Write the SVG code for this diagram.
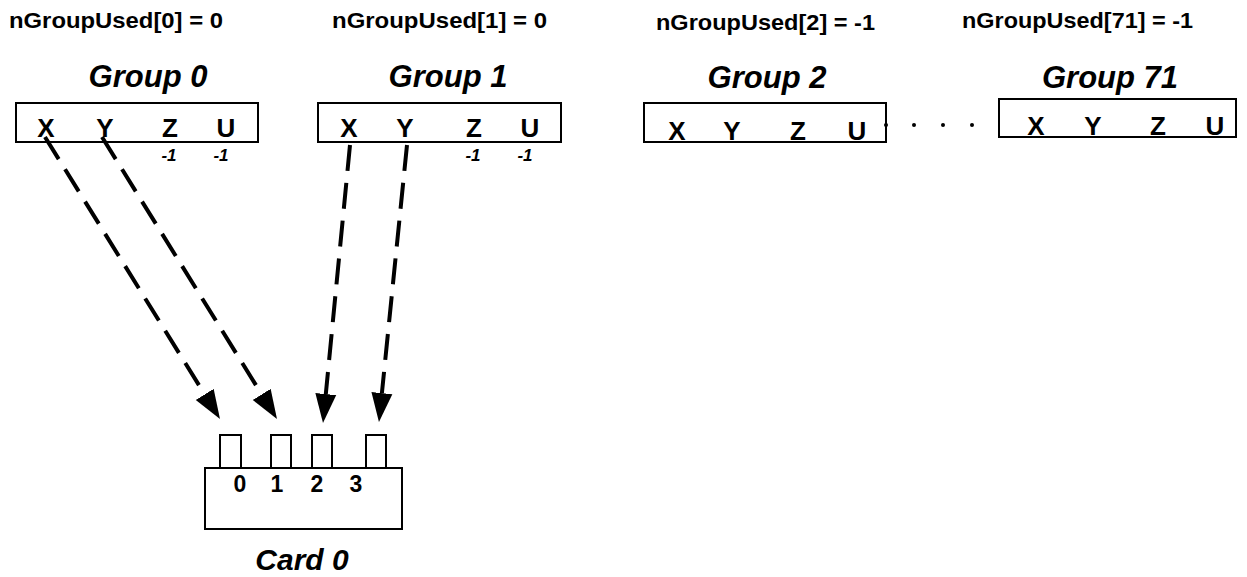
<svg xmlns="http://www.w3.org/2000/svg" width="1247" height="577" viewBox="0 0 1247 577">
  <style>
    .used { font-family: "Liberation Sans", Arial, sans-serif; font-weight: bold; font-size: 22px; fill: #000; }
    .title { font-family: "Liberation Sans", Arial, sans-serif; font-weight: bold; font-style: italic; font-size: 31px; fill: #000; text-anchor: middle; }
    .axis { font-family: "Liberation Sans", Arial, sans-serif; font-weight: bold; font-size: 26px; fill: #000; text-anchor: middle; }
    .unused { font-family: "Liberation Sans", Arial, sans-serif; font-weight: bold; font-style: italic; font-size: 17px; fill: #000; text-anchor: middle; }
    .chan { font-family: "Liberation Sans", Arial, sans-serif; font-weight: bold; font-size: 23px; fill: #000; text-anchor: middle; }
    .box { fill: #fff; stroke: #000; stroke-width: 2; }
    .link { fill: none; stroke: #000; stroke-width: 4; stroke-dasharray: 26 12; marker-end: url(#head); }
  </style>
  <defs>
    <marker id="head" markerUnits="userSpaceOnUse" markerWidth="32" markerHeight="24" viewBox="0 -12 32 24" refX="0" refY="0" orient="auto">
      <path d="M0,-10.5 L29,0 L0,10.5 z" fill="#000"/>
    </marker>
  </defs>

  <rect width="1247" height="577" fill="#fff"/>

  <!-- usage counters -->
  <g id="counters">
    <text class="used" x="9" y="28" textLength="214" lengthAdjust="spacingAndGlyphs">nGroupUsed[0] = 0</text>
    <text class="used" x="332" y="28" textLength="215" lengthAdjust="spacingAndGlyphs">nGroupUsed[1] = 0</text>
    <text class="used" x="656" y="30" textLength="219" lengthAdjust="spacingAndGlyphs">nGroupUsed[2] = -1</text>
    <text class="used" x="962" y="28" textLength="231" lengthAdjust="spacingAndGlyphs">nGroupUsed[71] = -1</text>
  </g>

  <!-- Group 0 -->
  <g id="group0">
    <text class="title" x="148" y="87">Group 0</text>
    <rect class="box" x="16" y="103" width="242" height="39"/>
    <text class="axis" x="46" y="137">X</text>
    <text class="axis" x="105" y="137">Y</text>
    <text class="axis" x="170" y="137">Z</text>
    <text class="axis" x="226" y="137">U</text>
    <text class="unused" x="169" y="161">-1</text>
    <text class="unused" x="221" y="161">-1</text>
  </g>

  <!-- Group 1 -->
  <g id="group1">
    <text class="title" x="448" y="87">Group 1</text>
    <rect class="box" x="318" y="103" width="243" height="39"/>
    <text class="axis" x="349" y="137">X</text>
    <text class="axis" x="405" y="137">Y</text>
    <text class="axis" x="474" y="137">Z</text>
    <text class="axis" x="530" y="137">U</text>
    <text class="unused" x="473" y="161">-1</text>
    <text class="unused" x="525" y="161">-1</text>
  </g>

  <!-- Group 2 -->
  <g id="group2">
    <text class="title" x="767" y="88">Group 2</text>
    <rect class="box" x="644" y="103" width="242" height="39"/>
    <text class="axis" x="677" y="140">X</text>
    <text class="axis" x="732" y="140">Y</text>
    <text class="axis" x="798" y="140">Z</text>
    <text class="axis" x="857" y="140">U</text>
  </g>

  <!-- ellipsis between groups -->
  <g id="ellipsis" fill="#000">
    <circle cx="886" cy="125" r="2"/>
    <circle cx="914" cy="125" r="2"/>
    <circle cx="943" cy="125" r="2"/>
    <circle cx="972" cy="125" r="2"/>
  </g>

  <!-- Group 71 -->
  <g id="group71">
    <text class="title" x="1110" y="88">Group 71</text>
    <rect class="box" x="999" y="99" width="237" height="38"/>
    <text class="axis" x="1036" y="135">X</text>
    <text class="axis" x="1093" y="135">Y</text>
    <text class="axis" x="1158" y="135">Z</text>
    <text class="axis" x="1215" y="135">U</text>
  </g>

  <!-- Card 0 with four axis slots -->
  <g id="card0">
    <rect class="box" x="220" y="435" width="21" height="33"/>
    <rect class="box" x="271" y="435" width="20" height="33"/>
    <rect class="box" x="312" y="435" width="20" height="33"/>
    <rect class="box" x="366" y="435" width="20" height="33"/>
    <rect class="box" x="205" y="468" width="197" height="61"/>
    <text class="chan" x="240" y="492">0</text>
    <text class="chan" x="277" y="492">1</text>
    <text class="chan" x="317" y="492">2</text>
    <text class="chan" x="356" y="492">3</text>
    <text class="title" x="302" y="570" style="font-size:30px">Card 0</text>
  </g>

  <!-- axis-to-slot mappings -->
  <g id="connectors">
    <line class="link" x1="45" y1="137" x2="204.7" y2="394.4"/>
    <line class="link" x1="102" y1="137" x2="261.7" y2="394.4"/>
    <line class="link" x1="350" y1="145" x2="325.8" y2="394.1"/>
    <line class="link" x1="407" y1="145" x2="381.9" y2="393.1"/>
  </g>
</svg>
